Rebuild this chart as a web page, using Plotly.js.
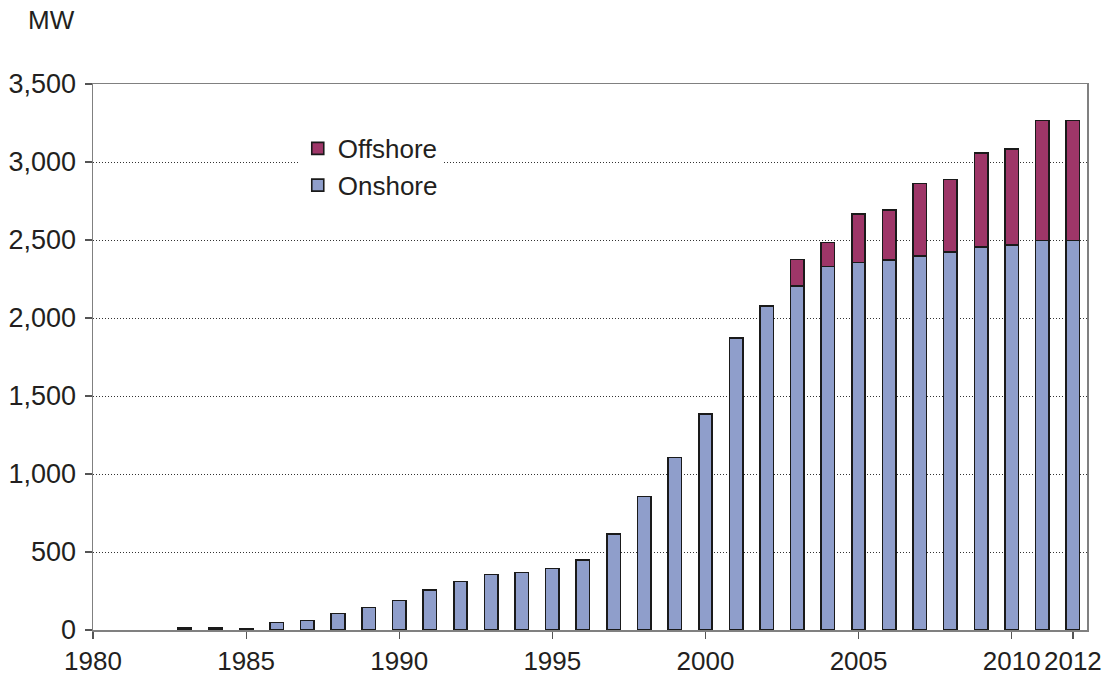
<!DOCTYPE html>
<html>
<head>
<meta charset="utf-8">
<script src="https://cdn.plot.ly/plotly-3.0.1.min.js"></script>
<style>html,body{margin:0;padding:0;background:#fff;}#chart{width:1108px;height:675px;}</style>
</head>
<body>
<div id="chart"></div>
<script>
const years = [1983,1984,1985,1986,1987,1988,1989,1990,1991,1992,1993,1994,1995,1996,1997,1998,1999,2000,2001,2002,2003,2004,2005,2006,2007,2008,2009,2010,2011,2012];
const onshore = [12,12,10,49,62,105,145,188,256,312,355,368,393,449,617,855,1105,1383,1872,2077,2205,2329,2357,2372,2399,2425,2455,2468,2498,2498];
const offshore = [0,0,0,0,0,0,0,0,0,0,0,0,0,0,0,0,0,0,0,0,169,154,310,320,462,462,603,615,767,767];
const xTickVals = [1980,1985,1990,1995,2000,2005,2010,2012];
const yUnit = "MW";

const lineStyle = {color:'#1a1a1a', width:1.6};
const traces = [
  {type:'bar', name:'Onshore', x:years, y:onshore, width:0.44,
   marker:{color:'#8f9ecb', line:lineStyle}, hoverinfo:'x+y'},
  {type:'bar', name:'Offshore', x:years, y:offshore, width:0.44,
   marker:{color:'#9e3668', line:lineStyle}, hoverinfo:'x+y'}
];
const fam = '"Liberation Sans", Arial, Helvetica, sans-serif';
const font = {family:fam, size:26, color:'#231f20'};
const yfont = {family:fam, size:27, color:'#231f20'};
const layout = {
  width:1108, height:675,
  margin:{l:93, r:21, t:84, b:45},
  paper_bgcolor:'#fff', plot_bgcolor:'#fff',
  font:font,
  barmode:'stack',
  showlegend:true,
  legend:{x:0.206, y:0.925, xanchor:'left', yanchor:'top', bgcolor:'#fff',
          traceorder:'reversed', font:font, borderwidth:0},
  xaxis:{range:[1980,2012.46], tickmode:'array', tickvals:xTickVals,
         ticks:'outside', ticklen:7, tickwidth:1.2, tickcolor:'#555',
         showline:true, linecolor:'#808080', linewidth:1.5, mirror:true,
         showgrid:false, zeroline:false, tickfont:font},
  yaxis:{range:[0,3500], dtick:500, tick0:0, tickformat:',',
         ticks:'outside', ticklen:7, tickwidth:1.2, tickcolor:'#555',
         ticklabelstandoff:3,
         showline:true, linecolor:'#808080', linewidth:1.5, mirror:true,
         showgrid:true, gridcolor:'#333', gridwidth:1, griddash:'1px,2px',
         zeroline:false, tickfont:yfont},
  annotations:[{text:yUnit, xref:'paper', yref:'paper', x:-0.067, y:1.117,
                xanchor:'left', yanchor:'middle', showarrow:false, font:font}]
};
Plotly.newPlot('chart', traces, layout, {displayModeBar:false, staticPlot:true});
</script>
</body>
</html>
